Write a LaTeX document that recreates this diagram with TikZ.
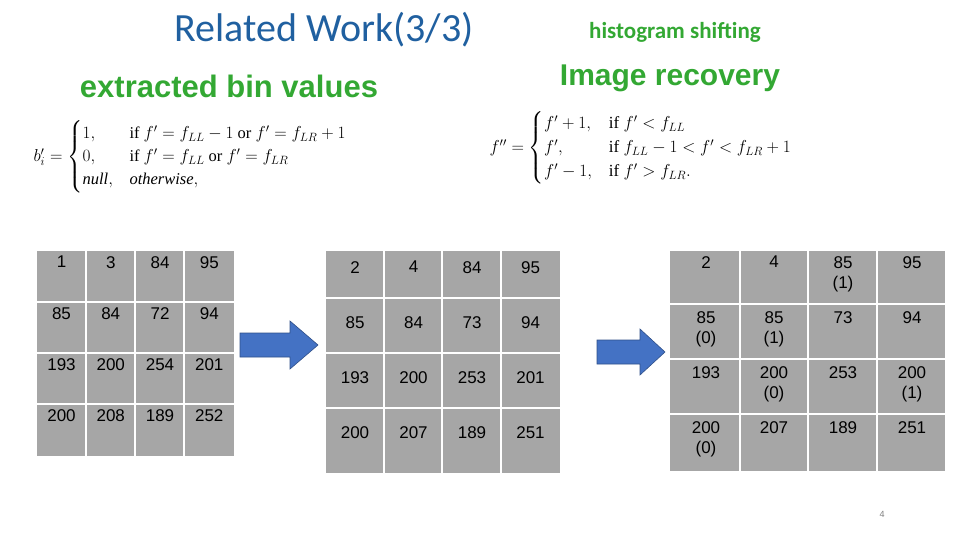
\documentclass[tikz,border=0pt]{standalone}
\usepackage{amsmath}
\usepackage{fontspec}
\setmainfont{Liberation Sans}
\newfontfamily\calfont{Carlito}
\newfontfamily\serfont{Liberation Serif}
\definecolor{cellg}{HTML}{A6A6A6}
\definecolor{ttl}{HTML}{2060A0}
\definecolor{grn}{HTML}{33A833}
\definecolor{arrb}{HTML}{4472C4}
\newcommand{\tx}[1]{\text{\serfont #1}}
\newcommand{\ti}[1]{\text{\serfont\itshape #1}}
\begin{document}
\begin{tikzpicture}[x=1pt,y=-1pt,
  num/.style={anchor=north,font=\fontsize{17}{20}\selectfont,align=center,inner sep=0pt},
  barrow/.style={fill=arrb,draw=arrb!70!black,line width=0.6pt}]
\useasboundingbox (0,0) rectangle (960,540);
\node (t1) at (324,30) {\calfont\color{ttl}\fontsize{40}{44}\selectfont Related Work(3/3)};
\node (t2) at (675,32) {\calfont\bfseries\color{grn}\fontsize{23}{26}\selectfont histogram shifting};
\node (t3) at (670,78) {\bfseries\color{grn}\fontsize{30}{34}\selectfont Image recovery};
\node (t4) at (229,86) {\bfseries\color{grn}\fontsize{31}{34}\selectfont extracted bin values};
\node[anchor=west] (f1) at (30,157) {\fontsize{16.5}{19}\selectfont $b_i'=\begin{cases}1, & \tx{if } f'=f_{LL}-1 \tx{ or } f'=f_{LR}+1\\ 0, & \tx{if } f'=f_{LL} \tx{ or } f'=f_{LR}\\ \ti{null}, & \ti{otherwise},\end{cases}$};
\node[anchor=west] (f2) at (486,148) {\fontsize{17}{20}\selectfont $f''=\begin{cases}f'+1, & \tx{if } f'<f_{LL}\\ f', & \tx{if } f_{LL}-1<f'<f_{LR}+1\\ f'-1, & \tx{if } f'>f_{LR}.\end{cases}$};
% table 1
\fill[cellg] (37,251) rectangle (234,456);
\foreach \x in {86,135,184} \draw[white,line width=1.5pt] (\x,251)--(\x,456);
\foreach \y in {302,353,404} \draw[white,line width=1.5pt] (37,\y)--(234,\y);
\foreach \t [count=\i from 0] in {1,3,84,95,85,84,72,94,193,200,254,201,200,208,189,252}{
  \pgfmathtruncatemacro\col{mod(\i,4)}\pgfmathtruncatemacro\row{int(\i/4)}
  \node[num] (a\i) at ({61.5+49.25*\col},{256+51.2*\row}) {\t};}
% table 2
\fill[cellg] (326,251) rectangle (560,473);
\foreach \x in {384,442,501} \draw[white,line width=1.5pt] (\x,251)--(\x,473);
\foreach \y in {298,353,408} \draw[white,line width=1.5pt] (326,\y)--(560,\y);
\foreach \t [count=\i from 0] in {2,4,84,95,85,84,73,94,193,200,253,201,200,207,189,251}{
  \pgfmathtruncatemacro\col{mod(\i,4)}\pgfmathtruncatemacro\row{int(\i/4)}
  \node[num] (b\i) at ({355+58.5*\col},{261+55*\row}) {\t};}
% table 3
\fill[cellg] (670,251) rectangle (945,471);
\foreach \x in {740,808,877} \draw[white,line width=1.5pt] (\x,251)--(\x,471);
\foreach \y in {304,359,414} \draw[white,line width=1.5pt] (670,\y)--(945,\y);
\foreach \t/\x/\y [count=\i] in {2/706/256,4/774/256,{85\\(1)}/843/256,95/912/256,
 {85\\(0)}/706/311,{85\\(1)}/774/311,73/843/311,94/912/311,
 193/706/366,{200\\(0)}/774/366,253/843/366,{200\\(1)}/912/366,
 {200\\(0)}/706/421,207/774/421,189/843/421,251/912/421}
  \node[num] (c\i) at (\x,\y) {\t};
% arrows
\draw[barrow] (240,333)--(290,333)--(290,321)--(318,345)--(290,369)--(290,357)--(240,357)--cycle;
\draw[barrow] (597,340)--(640,340)--(640,329)--(665,352)--(640,375)--(640,364)--(597,364)--cycle;
\node (pg) at (882,514) {\color{gray}\fontsize{9}{10}\selectfont 4};
\end{tikzpicture}
\end{document}
